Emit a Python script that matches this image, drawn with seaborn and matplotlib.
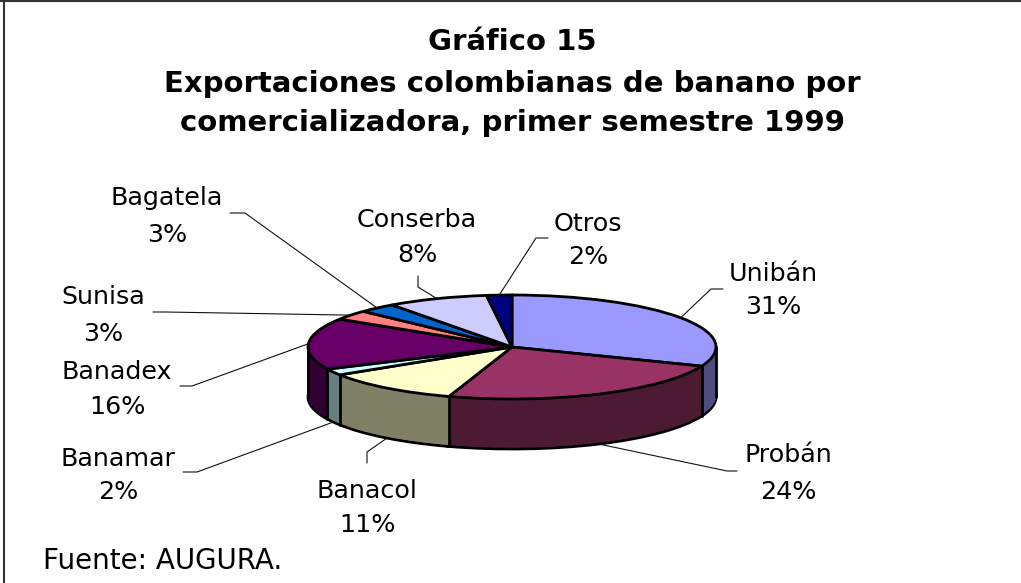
import numpy as np
import matplotlib
matplotlib.use("Agg")
import matplotlib.pyplot as plt
import matplotlib.colors as mcolors
import seaborn as sns

# data
companies = ["Unibán", "Probán", "Banacol", "Banamar", "Banadex",
             "Sunisa", "Bagatela", "Conserba", "Otros"]
shares = [31, 24, 11, 2, 16, 3, 3, 8, 2]
top_colors = ["#9999FF", "#993366", "#FFFFCC", "#CCFFFF", "#660066",
              "#FF8080", "#0066CC", "#CCCCFF", "#000080"]

title_lines = ["Gráfico 15",
               "Exportaciones colombianas de banano por",
               "comercializadora, primer semestre 1999"]
source_note = "Fuente: AUGURA."

# layout, in pixels of the 1021x583 picture
W, H = 1021, 583
CX, CY, RX, RY = 512, 347, 204, 52   # pie centre and ellipse radii
DEPTH = 50 / RY                      # height of the 3d wall

# label x, name baseline, percent baseline
label_pos = {
    "Unibán": (773, 281, 314), "Probán": (788, 462, 499),
    "Banacol": (367, 498, 532), "Banamar": (118, 466, 499),
    "Banadex": (117, 379, 414), "Sunisa": (103, 304, 341),
    "Bagatela": (167, 205, 242), "Conserba": (417, 227, 262),
    "Otros": (588, 231, 264),
}
# leader line start + elbow (the end comes from the slice)
leader_pts = {
    "Unibán": [(723, 289), (711, 289)], "Probán": [(737, 471), (727, 471)],
    "Banacol": [(367, 463), (367, 452)], "Banamar": [(183, 472), (197, 472)],
    "Banadex": [(180, 386), (192, 386)], "Sunisa": [(153, 312), (165, 312)],
    "Bagatela": [(230, 213), (245, 213)], "Conserba": [(418, 276), (418, 287)],
    "Otros": [(548, 238), (536, 238)],
}


def to_data(x, y):
    return (x - CX) / RX, (CY - y) / RY


def shade(c, f=0.5):
    r, g, b = mcolors.to_rgb(c)
    return (r * f, g * f, b * f)


sns.set_theme(style="white")
plt.rcParams["font.family"] = ["DejaVu Sans"]
plt.rcParams["text.color"] = "black"

fig = plt.figure(figsize=(W / 100, H / 100), dpi=100)
ax = fig.add_axes([0, 0, 1, 1])

side_colors = [shade(c) for c in top_colors]
pie_kw = dict(startangle=90, counterclock=False, radius=1)
EDGE = 2.0

# bottom rim with outline
ax.pie(shares, colors=side_colors, center=(0, -DEPTH),
       wedgeprops=dict(edgecolor="black", linewidth=EDGE), **pie_kw)
# side wall: stack of darker pies
for d in np.linspace(DEPTH - 0.04, 0.02, 60):
    wedges, _ = ax.pie(shares, colors=side_colors, center=(0, -d), **pie_kw)
    for w in wedges:
        w.set_edgecolor(w.get_facecolor())
        w.set_linewidth(0.8)

# vertical edges on the visible front of the wall
total = sum(shares)
cum = np.cumsum([0] + shares) / total
for f in cum[:-1]:
    th = np.deg2rad(90 - 360 * f)
    if np.sin(th) < 0:
        x, y = np.cos(th), np.sin(th)
        ax.plot([x, x], [y, y - DEPTH], color="black", lw=EDGE)
for x in (-1, 1):
    ax.plot([x, x], [0, -DEPTH], color="black", lw=EDGE)

# top face
ax.pie(shares, colors=top_colors, center=(0, 0),
       wedgeprops=dict(edgecolor="black", linewidth=EDGE), **pie_kw)

# labels and leader lines
start = 0
for name, s in zip(companies, shares):
    mid = (start + s / 2) / total
    start += s
    th = np.deg2rad(90 - 360 * mid)
    ex, ey = np.cos(th), np.sin(th)
    if ey < 0:
        ey -= DEPTH
    x, yb1, yb2 = label_pos[name]
    ax.text(*to_data(x, yb1), name, ha="center", va="baseline",
            fontsize=18.3, color="black")
    ax.text(*to_data(x, yb2), f"{round(100 * s / total)}%",
            ha="center", va="baseline", fontsize=18.3, color="black")
    pts = [to_data(*p) for p in leader_pts[name]] + [(ex, ey)]
    xs, ys = zip(*pts)
    ax.plot(xs, ys, color="#111111", lw=0.8)

# title and source
for line, yb in zip(title_lines, (50, 92, 131)):
    ax.text(*to_data(512, yb), line, ha="center", va="baseline",
            fontsize=21, fontweight="bold", color="black")
ax.text(*to_data(43, 569), source_note, ha="left", va="baseline",
        fontsize=20, color="black")

ax.set_aspect("auto")
ax.set_xlim(to_data(0, 0)[0], to_data(W, 0)[0])
ax.set_ylim(to_data(0, H)[1], to_data(0, 0)[1])
ax.axis("off")

# frame on the left and top
ax.axvline(to_data(3.5, 0)[0], color="#333333", lw=1.5)
ax.axhline(to_data(0, 0.5)[1], color="#333333", lw=1.5)

fig.savefig("out.png", dpi=100)
